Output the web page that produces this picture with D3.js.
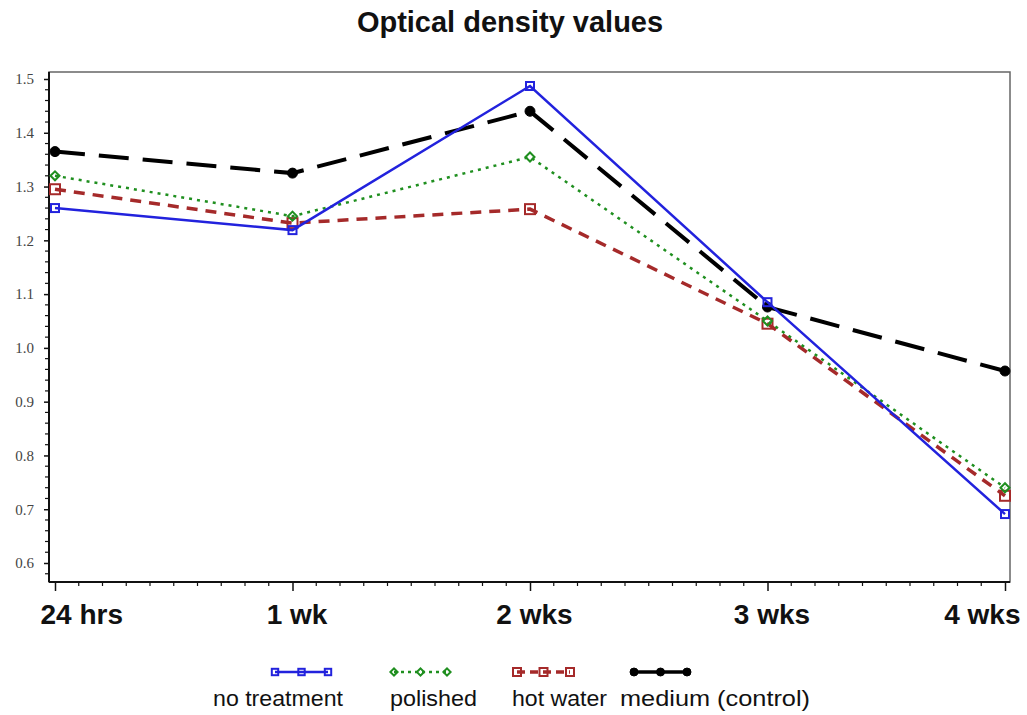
<!DOCTYPE html>
<html><head><meta charset="utf-8">
<script src="https://cdn.jsdelivr.net/npm/d3@7/dist/d3.min.js"></script>
<style>body{margin:0;background:#fff}svg{display:block}</style>
</head><body>
<svg id="c" width="1027" height="715"></svg>
<script>
const categories = ["24 hrs","1 wk","2 wks","3 wks","4 wks"];
const noTreatment = [1.26, 1.219, 1.487, 1.085, 0.691];
const polished    = [1.32, 1.245, 1.355, 1.050, 0.740];
const hotWater    = [1.295, 1.232, 1.258, 1.045, 0.725];
const medium      = [1.365, 1.325, 1.440, 1.076, 0.957];
const yTicks = [0.6,0.7,0.8,0.9,1.0,1.1,1.2,1.3,1.4,1.5];
const seriesNames = ["no treatment","polished","hot water","medium (control)"];

const series = [
  {name:seriesNames[0], values:noTreatment, color:"#2222dd", dash:null, width:2.5, marker:"square", size:8, fill:"none"},
  {name:seriesNames[1], values:polished, color:"#1f8f1f", dash:"3,5", width:2.5, marker:"diamond", size:9, fill:"none"},
  {name:seriesNames[2], values:hotWater, color:"#a52a2a", dash:"11,8", width:3.5, marker:"square", size:10, fill:"none"},
  {name:seriesNames[3], values:medium, color:"#000", dash:"30,14", width:4, marker:"circle", size:10, fill:"#000"}
];

const svg = d3.select("#c");
const L=49, R=1010, T=72, B=582;
const x = d3.scalePoint().domain(categories).range([55,1005]);
const y = d3.scaleLinear().domain([0.6,1.5]).range([563,79]);

// frame
svg.append("rect").attr("x",L).attr("y",T).attr("width",R-L).attr("height",B-T)
  .attr("fill","none").attr("stroke","#666").attr("stroke-width",1.5);
svg.append("line").attr("x1",L).attr("x2",L).attr("y1",T).attr("y2",B).attr("stroke","#111").attr("stroke-width",2);
svg.append("line").attr("x1",L).attr("x2",R).attr("y1",B).attr("y2",B).attr("stroke","#111").attr("stroke-width",2);

// y axis
const yAxis = d3.axisLeft(y).tickValues(yTicks).tickFormat(d3.format(".1f")).tickSize(5).tickSizeOuter(0);
const ya = svg.append("g").attr("transform",`translate(${L},0)`).call(yAxis);
ya.select(".domain").remove();
ya.selectAll("line").attr("stroke","#111").attr("stroke-width",1.5);
ya.selectAll("text").attr("font-family","Liberation Serif, serif").attr("font-size",15).attr("fill","#444").attr("x",-15);
const yMinor = d3.range(0.58,1.52,0.02).filter(v=>v>=0.565 && v<=1.512 && Math.abs(Math.round(v*10)-v*10)>0.01);
svg.append("g").selectAll("line").data(yMinor).join("line")
  .attr("x1",L-4).attr("x2",L).attr("y1",d=>y(d)).attr("y2",d=>y(d)).attr("stroke","#111").attr("stroke-width",1.2);

// x axis
const xAxis = d3.axisBottom(x).tickSize(9).tickSizeOuter(0).tickFormat(d=>d);
const xa = svg.append("g").attr("transform",`translate(0,${B})`).call(xAxis);
xa.select(".domain").remove();
xa.selectAll("line").attr("stroke","#111").attr("stroke-width",1.5);
const n = categories.length;
xa.selectAll("text").attr("font-family","Liberation Sans, Arial, sans-serif").attr("font-weight","bold")
  .attr("font-size",28).attr("fill","#111").attr("y",22).attr("dy","0.71em")
  .attr("text-anchor",(d,i)=>i===0?"start":(i===n-1?"end":"middle"))
  .attr("x",(d,i)=>i===0?-15:(i===n-1?15:4));
const step = x.step();
const xMinor=[];
for(let i=0;i<categories.length-1;i++){for(let k=1;k<10;k++){xMinor.push(x(categories[i])+step*k/10);}}
svg.append("g").selectAll("line").data(xMinor).join("line")
  .attr("x1",d=>d).attr("x2",d=>d).attr("y1",B).attr("y2",B+4).attr("stroke","#111").attr("stroke-width",1.2);

// title
svg.append("text").attr("x",510).attr("y",32).attr("text-anchor","middle")
  .attr("font-family","Liberation Sans, Arial, sans-serif").attr("font-weight","bold").attr("font-size",29)
  .attr("fill","#111").text("Optical density values");

function marker(g, s, cx, cy){
  const h=s.size/2;
  if(s.marker==="square"){
    g.append("rect").attr("x",cx-h).attr("y",cy-h).attr("width",s.size).attr("height",s.size)
      .attr("fill",s.fill).attr("stroke",s.color).attr("stroke-width",2);
  } else if(s.marker==="diamond"){
    g.append("path").attr("d",`M${cx-h},${cy}L${cx},${cy-h}L${cx+h},${cy}L${cx},${cy+h}Z`)
      .attr("fill",s.fill).attr("stroke",s.color).attr("stroke-width",2);
  } else {
    g.append("circle").attr("cx",cx).attr("cy",cy).attr("r",h).attr("fill",s.fill).attr("stroke",s.color);
  }
}

const line = d3.line().x((d,i)=>x(categories[i])).y(d=>y(d));
const order=[2,1,3,0];
order.forEach(idx=>{
  const s=series[idx];
  const g=svg.append("g");
  g.append("path").attr("d",line(s.values)).attr("fill","none").attr("stroke",s.color)
    .attr("stroke-width",s.width).attr("stroke-dasharray",s.dash);
  s.values.forEach((v,i)=>marker(g,s,x(categories[i]),y(v)));
});

// legend
const legItems=[
  {sx:275, tx:213, tw:130},
  {sx:394, tx:390, tw:87},
  {sx:517, tx:512, tw:95},
  {sx:634, tx:620, tw:190}
];
series.forEach((s,i)=>{
  const g=svg.append("g");
  const ly=672, x0=legItems[i].sx, w=53;
  g.append("line").attr("x1",x0).attr("x2",x0+w).attr("y1",ly).attr("y2",ly)
    .attr("stroke",s.color).attr("stroke-width",Math.min(s.width,3.5))
    .attr("stroke-dasharray",s.dash?(i===3?null:(i===1?"3,4":"8,5")):null);
  const ls={...s,size:s.size*0.8};
  [0,w/2,w].forEach(o=>marker(g,ls,x0+o,ly));
  g.append("text").attr("x",legItems[i].tx).attr("y",706).attr("text-anchor","start")
    .attr("textLength",legItems[i].tw).attr("lengthAdjust","spacingAndGlyphs")
    .attr("font-family","Liberation Sans, Arial, sans-serif").attr("font-size",22).attr("fill","#111").text(s.name);
});
</script>
</body></html>
